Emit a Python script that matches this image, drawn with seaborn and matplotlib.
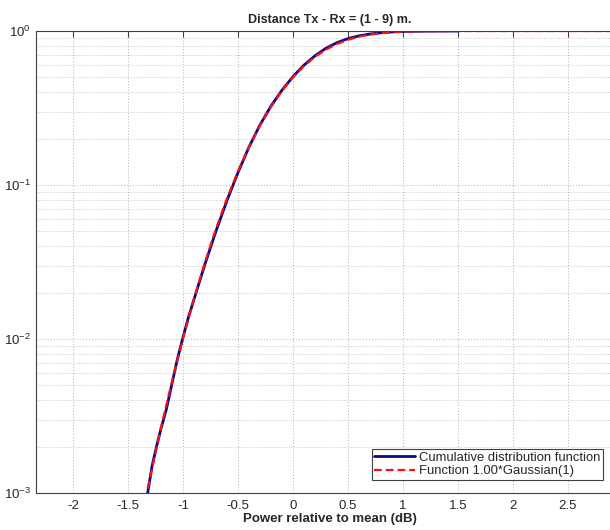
import numpy as np
import pandas as pd
import matplotlib
matplotlib.use("Agg")
import matplotlib.pyplot as plt
import seaborn as sns
from matplotlib.ticker import LogLocator, MultipleLocator, NullFormatter

cdf_x = [-1.32, -1.28, -1.24, -1.2, -1.15, -1.1, -1.05, -1.0, -0.95, -0.9, -0.8, -0.7,
         -0.6, -0.5, -0.4, -0.3, -0.2, -0.1, 0.0, 0.1, 0.2, 0.3, 0.4, 0.5, 0.6, 0.7,
         0.8, 0.9, 1.0, 1.2, 1.4, 1.5]
cdf_y = [0.001, 0.0015, 0.0020, 0.0026, 0.0035, 0.0051, 0.0074, 0.0102, 0.0138, 0.0180,
         0.0305, 0.0500, 0.0790, 0.120, 0.176, 0.245, 0.325, 0.412, 0.505, 0.600,
         0.690, 0.772, 0.840, 0.892, 0.930, 0.956, 0.974, 0.986, 0.993, 0.998, 0.9995, 1.0]

# Gaussian fit
fit_x = [-1.32, -1.2, -1.1, -1.0, -0.9, -0.8, -0.7, -0.6, -0.5, -0.4, -0.3, -0.2, -0.1,
         0.0, 0.1, 0.2, 0.3, 0.4, 0.5, 0.6, 0.7, 0.8, 0.9, 1.0, 1.2, 1.4, 1.6, 2.0, 2.9]
fit_y = [0.00107, 0.00264, 0.00526, 0.0100, 0.0182, 0.0314, 0.0518, 0.0815, 0.1225,
         0.176, 0.2427, 0.321, 0.408, 0.5, 0.592, 0.679, 0.757, 0.824, 0.8775, 0.9185,
         0.948, 0.9686, 0.9818, 0.990, 0.99736, 0.99943, 0.9999, 1.0, 1.0]

labels = ["Cumulative distribution function", "Function 1.00*Gaussian(1)"]
title = "Distance Tx - Rx = (1 - 9) m."
xlabel = "Power relative to mean (dB)"

sns.set_style("white")
plt.rcParams["font.family"] = ["Liberation Sans", "DejaVu Sans"]

fig = plt.figure(figsize=(6.1, 5.3), dpi=100)
ax = fig.add_axes([36/610, 37/530, 587/610, 462/530])

df1 = pd.DataFrame({"x": cdf_x, "y": cdf_y})
df2 = pd.DataFrame({"x": fit_x, "y": fit_y})
sns.lineplot(data=df1, x="x", y="y", ax=ax, color="#0a0a8c", lw=2.0,
             label=labels[0], sort=False, estimator=None)
sns.lineplot(data=df2, x="x", y="y", ax=ax, color="#ff1010", lw=1.6,
             linestyle=(0, (3.5, 1.8)), label=labels[1], sort=False, estimator=None)

ax.set_yscale("log")
ax.set_ylim(1e-3, 1)
ax.set_xlim(-2.335, 3.0)
ax.xaxis.set_major_locator(MultipleLocator(0.5))
ax.yaxis.set_major_locator(LogLocator(base=10))
ax.yaxis.set_minor_locator(LogLocator(base=10, subs=np.arange(2, 10)))
ax.yaxis.set_minor_formatter(NullFormatter())
ax.set_xticks([-2, -1.5, -1, -0.5, 0, 0.5, 1, 1.5, 2, 2.5])
ax.set_xticklabels(["-2", "-1.5", "-1", "-0.5", "0", "0.5", "1", "1.5", "2", "2.5"])

ax.grid(True, which="major", color="#b0b0b0", linestyle=(0, (1, 2)), lw=0.7)
ax.grid(True, which="minor", axis="y", color="#b8b8b8", linestyle=(0, (1, 2)), lw=0.6)
ax.tick_params(which="both", direction="in", top=True, right=True, labelsize=9.5,
               color="#404040")
ax.tick_params(which="major", length=4)
ax.tick_params(which="minor", length=2)
ax.tick_params(axis="x", pad=5)
for s in ax.spines.values():
    s.set_color("#404040")
    s.set_linewidth(0.8)

ax.set_title(title, fontsize=9, fontweight="bold", pad=6)
ax.set_xlabel(xlabel, fontsize=9.5, fontweight="bold", labelpad=1)
ax.set_ylabel("")

leg = ax.legend(loc="upper left", bbox_to_anchor=(0.572, 0.095), fontsize=9.4,
                frameon=True, fancybox=False, framealpha=1, edgecolor="#404040",
                handlelength=3.1, handletextpad=0.35, borderpad=0.2, labelspacing=0.1,
                borderaxespad=0)
leg.get_frame().set_linewidth(0.8)

fig.savefig("out.png", dpi=100)
